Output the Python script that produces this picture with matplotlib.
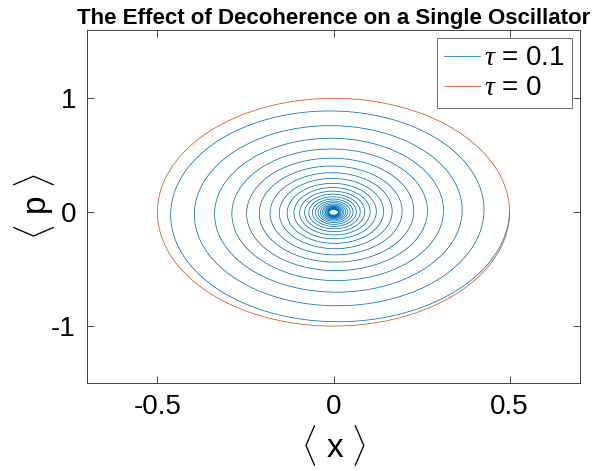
import numpy as np
import matplotlib
matplotlib.use('Agg')
import matplotlib.pyplot as plt

plt.rcParams['font.family'] = ['Liberation Sans', 'DejaVu Sans']
plt.rcParams['mathtext.fontset'] = 'custom'
plt.rcParams['mathtext.rm'] = 'Liberation Sans'
plt.rcParams['mathtext.it'] = 'Liberation Serif:italic'

# Params
taus = [0.1, 0]                  # decoherence rates
labels = [r'$\tau$ = 0.1', r'$\tau$ = 0']
colors = ['#0072BD', '#D95319']
t_ends = [150.0, 2 * np.pi]      # run length per curve (radians); tau=0 just retraces itself
x_amp = 0.5                      # initial <x>
p_amp = 1.0                      # initial <p> amplitude
n_pts = 20000

xticks = [-0.5, 0, 0.5]
yticks = [-1, 0, 1]
xlims = (-0.7, 0.7)
ylims = (-1.5, 1.6)

fig = plt.figure(figsize=(6.02, 4.71), dpi=100)
ax = fig.add_axes([87/602, 1 - 383/471, (580-87)/602, (383-30)/471])

for tau, t_end, lab, c in zip(taus, t_ends, labels, colors):
    t = np.linspace(0, t_end, n_pts)
    env = np.exp(-tau * t / 4)
    ax.plot(x_amp * env * np.cos(t), -p_amp * env * np.sin(t), color=c, lw=0.55, label=lab)

ax.set_xlim(xlims)
ax.set_ylim(ylims)
ax.set_xticks(xticks)
ax.set_yticks(yticks)
ax.set_xticklabels(['-0.5', '0', '0.5'])
ax.set_yticklabels(['-1', '0', '1'])
ax.tick_params(direction='in', top=True, right=True, length=5, width=0.6,
               color='#262626', labelsize=20, pad=8)
for s in ax.spines.values():
    s.set_color('#262626')
    s.set_linewidth(0.6)

ax.set_xlabel(r'$\langle$ x $\rangle$', fontsize=24, labelpad=2)
ax.set_ylabel(r'$\langle$ p $\rangle$', fontsize=24, labelpad=-4)
ax.set_title('The Effect of Decoherence on a Single Oscillator', fontsize=16,
             fontweight='bold', pad=4)

leg = ax.legend(loc='upper right', fontsize=20, frameon=True, fancybox=False,
                borderaxespad=0.3, handlelength=1.3, handletextpad=0.15,
                borderpad=0.25, labelspacing=0.15)
leg.get_frame().set_edgecolor('#262626')
leg.get_frame().set_linewidth(0.6)

fig.savefig('out.png', dpi=100)
